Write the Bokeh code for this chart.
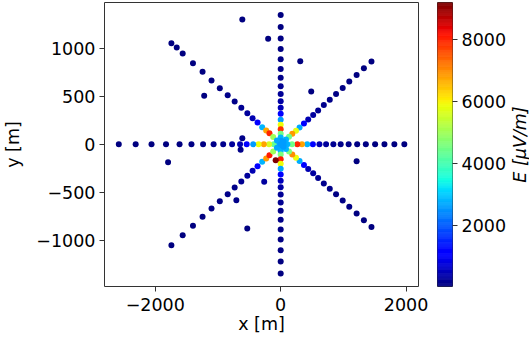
import numpy as np
from bokeh.plotting import figure
from bokeh.models import Range1d, FixedTicker, ColumnDataSource
from bokeh.core.properties import value
from bokeh.transform import linear_cmap
from bokeh.layouts import row
from bokeh.embed import file_html
from bokeh.resources import INLINE

# ---------------- data (antenna positions in m, field E in uV/m) ----------------
vert_y = [1347, 1220, 1102, 991, 885, 784, 691, 604, 522, 448, 380, 316, 256, 203, 155, 108, 70, 35,
          -35, -70, -108, -156, -204, -256, -316, -381, -448, -524, -607, -694, -788, -889, -993, -1104, -1222, -1347]
vert_E = [60, 65, 75, 85, 100, 115, 140, 180, 240, 330, 500, 1100, 2600, 5900, 7900, 4500, 2800, 2600,
          2600, 2800, 4600, 8100, 5900, 2700, 1200, 520, 340, 240, 180, 140, 115, 100, 85, 75, 65, 60]

horiz_x = [1972, 1813, 1655, 1506, 1358, 1220, 1084, 957, 840, 724, 618, 513, 423, 339, 265, 180, 106, 60, 30,
           -30, -60, -111, -185, -269, -353, -438, -542, -648, -775, -917, -1070, -1238, -1423, -1613, -1829,
           -2060, -2313, -2582]
horiz_E = [50, 55, 60, 70, 80, 95, 110, 140, 180, 250, 450, 1200, 2800, 6800, 8000, 4500, 2800, 2700, 2600,
           2600, 2700, 4300, 5600, 6800, 5900, 2600, 1100, 450, 250, 170, 130, 100, 80, 65, 55, 45, 40, 35]

ne_x = [1448, 1327, 1211, 1094, 989, 883, 783, 688, 597, 518, 439, 371, 301, 244, 185, 133, 85, 45]
ne_y = [861, 791, 721, 652, 586, 522, 464, 408, 352, 303, 258, 216, 174, 140, 108, 77, 50, 27]
ne_E = [55, 60, 70, 80, 90, 105, 125, 160, 210, 290, 450, 1100, 2700, 5800, 6900, 4500, 2800, 2600]

se_x = [1448, 1327, 1211, 1094, 989, 883, 783, 688, 597, 518, 439, 371, 301, 244, 185, 133, 85, 45]
se_y = [-861, -791, -721, -652, -586, -522, -464, -408, -352, -303, -258, -216, -174, -140, -108, -77, -50, -27]
se_E = [55, 60, 70, 80, 90, 105, 125, 160, 210, 290, 450, 1150, 2750, 5900, 7000, 4600, 2800, 2600]

nw_x = [-1743, -1563, -1399, -1246, -1103, -971, -845, -734, -628, -532, -448, -369, -295, -231, -179, -120, -60]
nw_y = [1052, 945, 844, 754, 664, 583, 510, 444, 379, 323, 271, 226, 177, 143, 115, 75, 38]
nw_E = [40, 45, 55, 65, 75, 90, 110, 140, 190, 270, 450, 1100, 2800, 6800, 8000, 5000, 2700]

sw_x = [-1743, -1563, -1399, -1246, -1103, -971, -845, -734, -628, -532, -448, -369, -295, -231, -179, -120, -60]
sw_y = [-1052, -948, -850, -756, -669, -594, -521, -451, -389, -329, -277, -229, -183, -149, -115, -75, -38]
sw_E = [40, 45, 55, 65, 75, 90, 110, 140, 190, 270, 450, 1150, 2800, 6900, 8100, 5000, 2700]

extra_x = [-612, -200, 312, 487, -1658, -1220, -612, -639, -1796, 1211, -263, -707, -533, 0, -80]
extra_y = [1299, 1098, 865, 549, 1007, 504, 63, -58, -188, -177, -392, -583, -878, 0, -167]
extra_E = [40, 50, 50, 70, 40, 60, 110, 110, 45, 70, 300, 120, 70, 2600, 9200]

x_ticks = [-2000, 0, 2000]
x_tick_labels = ["\u22122000", "0", "2000"]
y_ticks = [-1000, -500, 0, 500, 1000]
y_tick_labels = ["\u22121000", "\u2212500", "0", "500", "1000"]
cb_ticks = [2000, 4000, 6000, 8000]
cb_tick_labels = ["2000", "4000", "6000", "8000"]
cb_title = "E [\u03bcV/m]"

# ---------------- assemble ----------------
xs = ([0] * len(vert_y)) + horiz_x + ne_x + se_x + nw_x + sw_x + extra_x
ys = vert_y + ([0] * len(horiz_x)) + ne_y + se_y + nw_y + sw_y + extra_y
Es = vert_E + horiz_E + ne_E + se_E + nw_E + sw_E + extra_E
e_low, e_high = min(Es), max(Es)


def jet_palette(n=256):
    t = np.linspace(0, 1, n)
    r = np.interp(t, [0, 0.35, 0.66, 0.89, 1], [0, 0, 1, 1, 0.5])
    g = np.interp(t, [0, 0.125, 0.375, 0.64, 0.91, 1], [0, 0, 1, 1, 0, 0])
    b = np.interp(t, [0, 0.11, 0.34, 0.65, 1], [0.5, 1, 1, 0, 0])
    return ["#%02x%02x%02x" % (int(round(R * 255)), int(round(G * 255)), int(round(B * 255)))
            for R, G, B in zip(r, g, b)]


JET = jet_palette()
FONT = "DejaVu Sans"
FS = "17.5px"
FRAME = "#333333"
H = 340
TOP, BOTTOM = 2, 54

# ---------------- main scatter ----------------
p = figure(width=437, height=H, x_range=Range1d(-2810, 2198), y_range=Range1d(-1482, 1476),
           output_backend="svg", toolbar_location=None,
           min_border_left=102, min_border_right=19, min_border_top=TOP, min_border_bottom=BOTTOM)
src = ColumnDataSource(dict(x=xs, y=ys, E=Es))
p.scatter("x", "y", source=src, size=6, line_color=None,
          fill_color=linear_cmap("E", JET, e_low, e_high))

p.xgrid.visible = False
p.ygrid.visible = False
p.outline_line_color = FRAME
p.outline_line_width = 1

p.xaxis.ticker = FixedTicker(ticks=x_ticks)
p.xaxis.major_label_overrides = dict(zip(x_ticks, x_tick_labels))
p.yaxis.ticker = FixedTicker(ticks=y_ticks)
p.yaxis.major_label_overrides = dict(zip(y_ticks, y_tick_labels))
p.xaxis.axis_label = "x [m]"
p.yaxis.axis_label = "y [m]"
for ax in (p.xaxis, p.yaxis):
    ax.axis_line_color = None
    ax.major_tick_out = 5
    ax.major_tick_in = 0
    ax.minor_tick_line_color = None
    ax.major_tick_line_color = FRAME
    ax.major_label_text_font = FONT
    ax.major_label_text_font_size = FS
    ax.major_label_text_color = "black"
    ax.axis_label_text_font = FONT
    ax.axis_label_text_font_size = FS
    ax.axis_label_text_font_style = "normal"
    ax.axis_label_text_color = "black"
p.xaxis.major_label_standoff = 6
p.yaxis.major_label_standoff = 4
p.xaxis.axis_label_standoff = 0
p.yaxis.axis_label_standoff = 10

# ---------------- colorbar ----------------
cb = figure(width=72, height=H, x_range=Range1d(0, 1), y_range=Range1d(e_low, e_high),
            output_backend="svg", toolbar_location=None, x_axis_location=None, y_axis_location="right",
            min_border_left=0, min_border_right=56, min_border_top=TOP, min_border_bottom=BOTTOM)
edges = np.linspace(e_low, e_high, len(JET) + 1)
cb.quad(left=0, right=1, bottom=edges[:-1], top=edges[1:], fill_color=JET, line_color=JET, line_width=0.6)
cb.xgrid.visible = False
cb.ygrid.visible = False
cb.outline_line_color = FRAME
cb.outline_line_width = 1
cb.yaxis.ticker = FixedTicker(ticks=cb_ticks)
cb.yaxis.major_label_overrides = dict(zip(cb_ticks, cb_tick_labels))
cb.yaxis.axis_line_color = None
cb.yaxis.major_tick_out = 5
cb.yaxis.major_tick_in = 0
cb.yaxis.minor_tick_line_color = None
cb.yaxis.major_tick_line_color = FRAME
cb.yaxis.major_label_text_font = FONT
cb.yaxis.major_label_text_font_size = FS
cb.yaxis.major_label_text_color = "black"
cb.yaxis.major_label_standoff = 4

# ---------------- colorbar label (rotated, reads bottom to top) ----------------
lab = figure(width=20, height=H, x_range=Range1d(0, 1), y_range=Range1d(0, 1),
             output_backend="svg", toolbar_location=None, x_axis_location=None, y_axis_location=None,
             min_border_left=0, min_border_right=0, min_border_top=TOP, min_border_bottom=BOTTOM)
lab.xgrid.visible = False
lab.ygrid.visible = False
lab.outline_line_color = None
lab.text(x=[0.5], y=[0.5], text=[cb_title], angle=np.pi / 2, text_align="center",
         text_baseline="middle", text_font=value(FONT), text_font_size=FS,
         text_font_style="italic", text_color="black")

layout = row(p, cb, lab)
open("out.html", "w").write(file_html(layout, INLINE))
